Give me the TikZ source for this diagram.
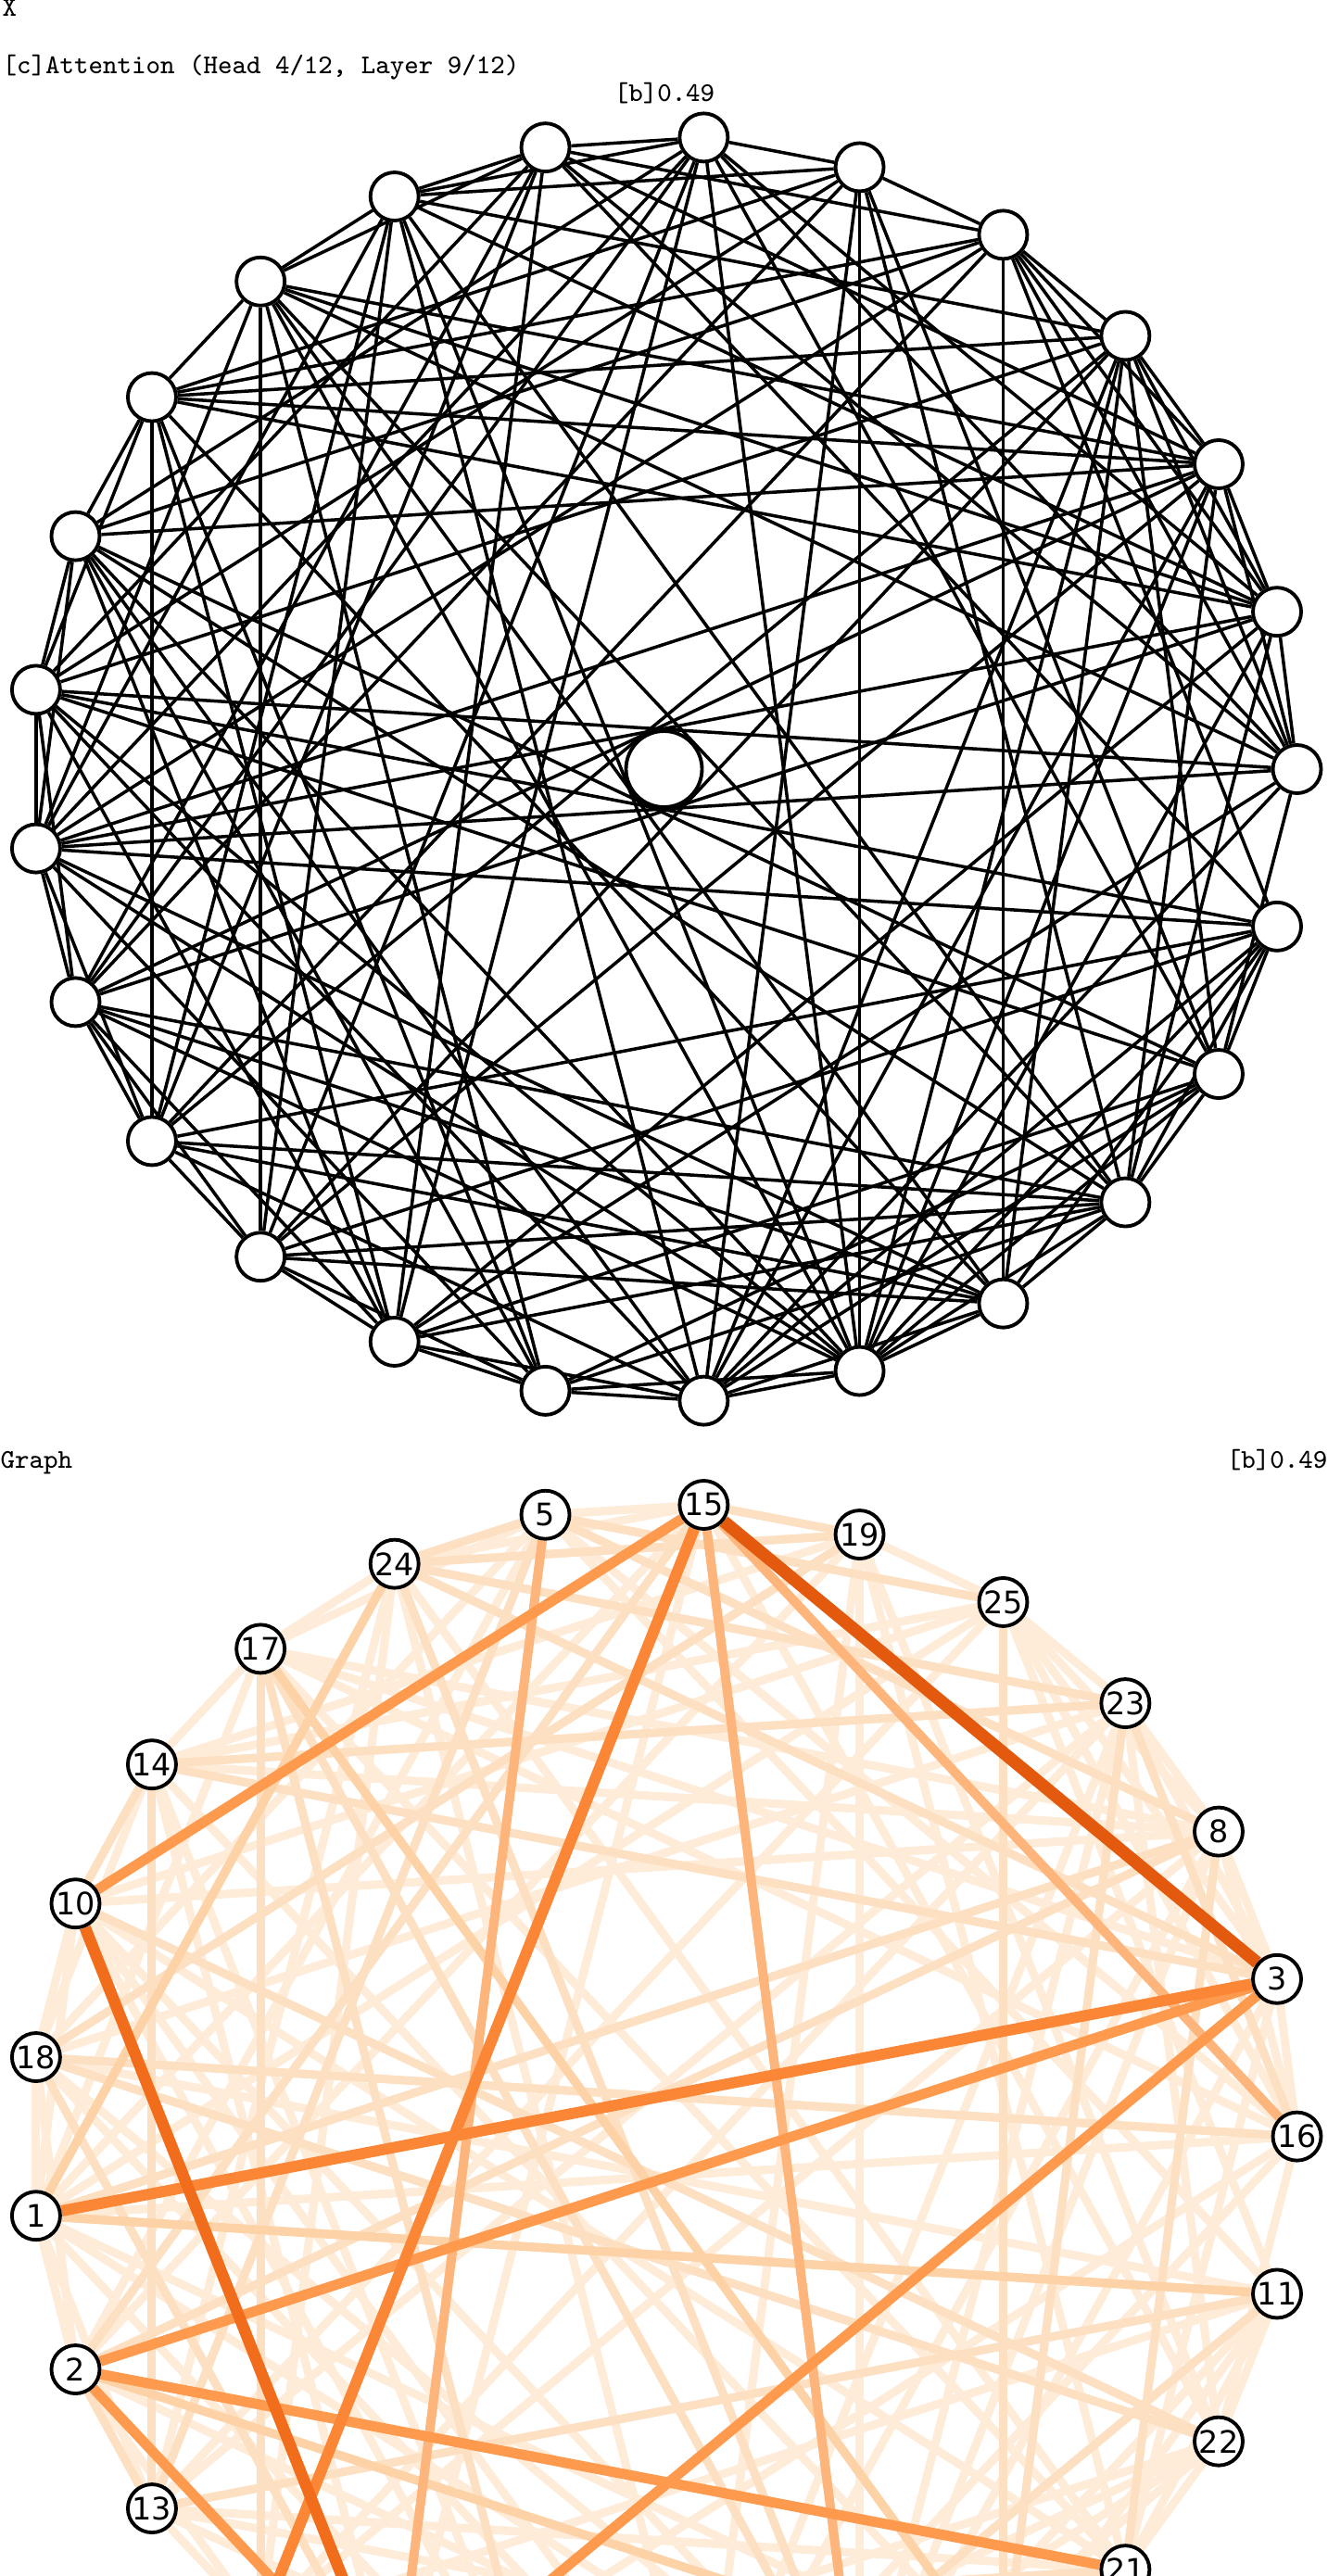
\documentclass[tikz,border=0pt]{standalone}
\usepackage{fontspec}
\newfontfamily\labfont{DejaVu Sans}
\usetikzlibrary{calc,backgrounds}
\definecolor{wA}{HTML}{E35A0E}
\definecolor{wB}{HTML}{F16D1C}
\definecolor{wC}{HTML}{FB8636}
\definecolor{wD}{HTML}{FD9A4E}
\definecolor{wE}{HTML}{FDB57C}
\definecolor{wF}{HTML}{FDD2A6}
\definecolor{wG}{HTML}{FDDFC2}
\definecolor{wH}{HTML}{FEEBD8}
% edge list shared by both graphs (indices count round the circle)
\def\attedges{9/16,10/15,5/20,4/21,4/7,2/7,5/8,3/8,13/24,15/24,2/22,0/12,
  1/6,6/11,11/17,1/13,1/14,14/22,14/17,1/17,7/17,0/6,6/20,6/16,8/13,9/21,
  8/19,9/20,10/21,11/22,12/23,2/13,4/15,6/17,2/16,5/19,8/22,
  2/14,3/15,8/20,11/23,12/24,0/13,3/16,9/22,
  0/1,1/2,2/3,3/4,4/5,5/6,6/7,7/8,8/9,9/10,10/11,11/12,12/13,13/14,14/15,
  15/16,16/17,17/18,18/19,19/20,20/21,21/22,22/23,23/24,
  0/2,1/3,2/4,6/8,7/9,10/12,11/13,12/14,13/15,14/16,16/18,17/19,18/20,19/21,
  20/22,22/24,0/23,
  0/3,0/4,0/9,0/17,0/19,1/4,1/8,1/20,1/22,2/10,2/19,2/20,3/10,3/20,3/23,
  4/11,4/24,5/10,5/12,5/23,6/13,6/14,6/23,7/12,7/14,8/15,9/13,9/18,10/17,
  11/18,11/20,12/17,12/19,13/20,14/20,15/19,15/21,16/22,16/24,17/23,18/23,
  19/24,20/24,12/20,13/18,15/22,
  1/9,1/10,2/9,3/12,4/13,4/10,5/14,7/15,8/16,10/18,11/19,13/21,14/21,16/21,
  17/22,18/22,19/23,20/23,21/24,3/19,2/11,0/7,5/22,7/24,3/21}
\begin{document}
\begin{tikzpicture}[x=1cm,y=1cm,
  tok/.style={draw,circle,line width=1.1pt,fill=white,minimum size=5.2mm,inner sep=0pt},
  hub/.style={draw,circle,line width=1.1pt,fill=white,minimum size=8.2mm,inner sep=0pt},
  att/.style={line width=1pt},
  wnode/.style={tok,font=\fontsize{9.5}{10}\selectfont\labfont},
  txt/.style={font=\fontsize{8.3}{10}\selectfont\ttfamily,inner sep=0pt}]
\useasboundingbox (0,0) rectangle (14.33,-27.80);
\node[txt,anchor=base west] (xlab) at (0.02,-0.18) {X};
\node[txt,anchor=base west] (title) at (0.02,-0.80) {[c]Attention (Head 4/12, Layer 9/12)};
\node[txt,anchor=base] (toplab) at (7.17,-1.10) {[b]0.49};
\node[txt,anchor=base west] (glab) at (0,-15.84) {Graph};
\node[txt,anchor=base east] (gval) at (14.33,-15.84) {[b]0.49};
% attention graph
\coordinate (top) at (7.165,-8.30);
\node[hub] (hub) at (top) {};
\foreach \k in {0,...,24}
  \node[tok] (t\k) at ($(top)+(\k*14.4:6.83)$) {};
\begin{scope}[on background layer]
\foreach \a/\b in \attedges
  \draw[att] (t\a) -- (t\b);
\end{scope}
% weighted graph
\coordinate (bot) at (7.165,-23.056);
\foreach \k/\l in {0/16,1/3,2/8,3/23,4/25,5/19,6/15,7/5,8/24,9/17,10/14,
  11/10,12/18,13/1,14/2,15/13,22/21,23/22,24/11}
  \node[wnode] (b\k) at ($(bot)+(\k*14.4:6.83)$) {\l};
\foreach \k in {16,...,21}
  \coordinate (b\k) at ($(bot)+(\k*14.4:6.83)$);
\begin{scope}[on background layer]
\foreach \a/\b in \attedges
  \draw[wH,line width=0.9mm] (b\a) -- (b\b);
\foreach \a/\b in {9/16,10/15,4/21,4/7,2/7,5/8,3/8,15/24,2/22,0/12,2/13,
  12/23,9/20,2/14,8/20,11/23,17/18,5/6,7/8,10/11,14/15,0/3,1/8,3/10,5/12,
  6/14,9/18,12/17,16/22,19/24,1/10,7/15,17/22,3/21}
  \draw[wG,line width=0.9mm] (b\a) -- (b\b);
\foreach \a/\b/\c/\w in {8/13/wF/0.95,9/21/wF/0.95,14/21/wF/0.95,13/24/wF/0.95,
  7/17/wE/1.0,6/0/wE/1.0,6/20/wE/1.0,14/1/wD/1.1,11/6/wD/1.1,14/22/wD/1.1,
  14/17/wD/1.1,1/17/wD/1.1,13/1/wC/1.2,6/16/wC/1.2,11/17/wB/1.25,6/1/wA/1.35}
  \draw[\c,line width=\w mm] (b\a) -- (b\b);
\end{scope}
\end{tikzpicture}
\end{document}
